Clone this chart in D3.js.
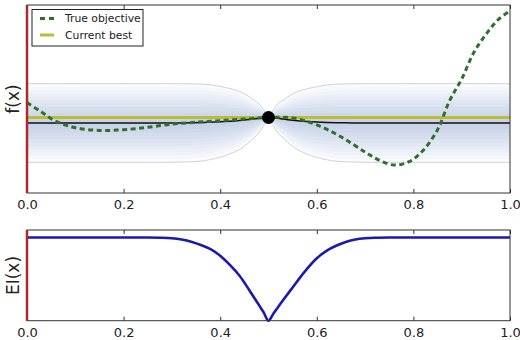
<!DOCTYPE html>
<html>
<head>
<meta charset="utf-8">
<script src="https://cdn.jsdelivr.net/npm/d3@7/dist/d3.min.js"></script>
<style>
  html, body { margin: 0; padding: 0; background: #fff; }
  svg { display: block; font-family: "DejaVu Sans", sans-serif; }
</style>
</head>
<body>
<svg id="chart" width="520" height="340"></svg>
<script>
// True objective function, sampled along x
const trueX = [0, 0.03, 0.06, 0.10, 0.15, 0.20, 0.25, 0.30, 0.35, 0.40, 0.45, 0.50, 0.55, 0.60, 0.65, 0.70, 0.73, 0.76, 0.79, 0.82, 0.85, 0.875, 0.90, 0.925, 0.95, 0.975, 1.0];
const trueY = [0.52, 0.28, 0.04, -0.12, -0.19, -0.17, -0.11, -0.03, 0.02, 0.06, 0.10, 0.14, 0.13, -0.05, -0.35, -0.74, -0.95, -1.07, -0.99, -0.70, -0.17, 0.57, 1.12, 1.79, 2.25, 2.62, 2.85];

// Gaussian-process posterior: mean and standard deviation
const gpX    = [0, 0.10, 0.20, 0.30, 0.32, 0.34, 0.36, 0.38, 0.40, 0.42, 0.44, 0.46, 0.47, 0.48, 0.49, 0.50, 0.51, 0.52, 0.53, 0.54, 0.56, 0.58, 0.60, 0.62, 0.64, 0.66, 0.68, 0.70, 0.80, 0.90, 1.0];
const gpMean = [0, 0, 0, 0, 0.002, 0.005, 0.01, 0.02, 0.03, 0.045, 0.065, 0.09, 0.105, 0.12, 0.13, 0.14, 0.13, 0.12, 0.10, 0.085, 0.06, 0.04, 0.025, 0.015, 0.008, 0.004, 0.002, 0, 0, 0, 0];
const gpSd   = [1, 1, 1, 1, 0.997, 0.99, 0.98, 0.95, 0.90, 0.83, 0.74, 0.58, 0.48, 0.38, 0.20, 0, 0.20, 0.38, 0.48, 0.58, 0.74, 0.83, 0.90, 0.95, 0.98, 0.99, 0.997, 1, 1, 1, 1];

// Observed sample and best value so far
const obsX = [0.5];
const obsY = [0.14];
const currentBest = 0.14;

// Expected improvement acquisition function
const eiX = [0, 0.10, 0.20, 0.25, 0.28, 0.30, 0.32, 0.34, 0.36, 0.38, 0.40, 0.42, 0.44, 0.46, 0.48, 0.49, 0.50, 0.51, 0.52, 0.53, 0.55, 0.575, 0.60, 0.62, 0.64, 0.66, 0.68, 0.70, 0.72, 0.75, 0.80, 0.90, 1.0];
const eiY = [1.0, 1.0, 1.0, 1.0, 0.997, 0.99, 0.975, 0.95, 0.91, 0.86, 0.78, 0.67, 0.54, 0.37, 0.19, 0.10, 0.0, 0.085, 0.165, 0.245, 0.40, 0.59, 0.75, 0.84, 0.90, 0.945, 0.975, 0.99, 0.997, 1.0, 1.0, 1.0, 1.0];

const xTicks = [0, 0.2, 0.4, 0.6, 0.8, 1.0];
const legendLabels = ["True objective", "Current best"];

const svg = d3.select("#chart");

const x = d3.scaleLinear().domain([0, 1]).range([27, 510]);
const yTop = d3.scaleLinear().domain([-1.78, 3.0]).range([193, 5]);
const yBot = d3.scaleLinear().domain([0, 1.09]).range([320.7, 230]);

const gp = gpX.map((d, i) => ({ x: d, m: gpMean[i], s: gpSd[i] }));

// Shaded posterior: nested translucent bands, darker toward the mean
const topG = svg.append("g");
const levels = d3.range(1, 13).map(k => k / 12);
levels.forEach(k => {
  topG.append("path")
    .datum(gp)
    .attr("fill", "#5a7ea8")
    .attr("fill-opacity", 0.028)
    .attr("d", d3.area()
      .x(d => x(d.x))
      .y0(d => yTop(d.m - k * d.s))
      .y1(d => yTop(d.m + k * d.s))
      .curve(d3.curveCatmullRom));
});

// Band outline at one standard deviation
[1, -1].forEach(sign => {
  topG.append("path")
    .datum(gp)
    .attr("fill", "none")
    .attr("stroke", "#d2d2d8")
    .attr("stroke-width", 1)
    .attr("d", d3.line()
      .x(d => x(d.x))
      .y(d => yTop(d.m + sign * d.s))
      .curve(d3.curveCatmullRom));
});

// Current best
topG.append("line")
  .attr("x1", x(0)).attr("x2", x(1))
  .attr("y1", yTop(currentBest)).attr("y2", yTop(currentBest))
  .attr("stroke", "#bdbd33").attr("stroke-width", 3);

// Posterior mean
topG.append("path")
  .datum(gp)
  .attr("fill", "none")
  .attr("stroke", "#111")
  .attr("stroke-width", 1.5)
  .attr("d", d3.line().x(d => x(d.x)).y(d => yTop(d.m)).curve(d3.curveCatmullRom));

// True objective
topG.append("path")
  .datum(trueX.map((d, i) => [d, trueY[i]]))
  .attr("fill", "none")
  .attr("stroke", "#2f6e2f")
  .attr("stroke-width", 3)
  .attr("stroke-dasharray", "5,3.5")
  .attr("d", d3.line().x(d => x(d[0])).y(d => yTop(d[1])).curve(d3.curveCatmullRom));

// Observation
topG.selectAll("circle.obs")
  .data(obsX.map((d, i) => [d, obsY[i]]))
  .join("circle")
  .attr("class", "obs")
  .attr("cx", d => x(d[0])).attr("cy", d => yTop(d[1]))
  .attr("r", 6.5)
  .attr("fill", "#000");

// Expected improvement
const botG = svg.append("g");
botG.append("path")
  .datum(eiX.map((d, i) => [d, eiY[i]]))
  .attr("fill", "none")
  .attr("stroke", "#1a1ab0")
  .attr("stroke-width", 2.6)
  .attr("d", d3.line().x(d => x(d[0])).y(d => yBot(d[1])).curve(d3.curveCatmullRom));

// Frames, ticks and labels
function frame(yScale) {
  const [y0, y1] = yScale.range();
  const g = svg.append("g");
  g.append("rect")
    .attr("x", x(0)).attr("y", y1)
    .attr("width", x(1) - x(0)).attr("height", y0 - y1)
    .attr("fill", "none").attr("stroke", "#333").attr("stroke-width", 1);
  // inward ticks on top and bottom edges
  g.append("g").attr("transform", `translate(0,${y0})`)
    .call(d3.axisBottom(x).tickValues(xTicks).tickSize(-4).tickPadding(7).tickFormat(d3.format(".1f")))
    .call(a => a.select(".domain").remove())
    .call(a => a.selectAll("line").attr("stroke", "#333"))
    .call(a => a.selectAll("text").attr("font-size", 13).attr("fill", "#222").attr("font-family", "DejaVu Sans"));
  g.append("g").attr("transform", `translate(0,${y1})`)
    .call(d3.axisTop(x).tickValues(xTicks).tickSize(-4).tickFormat(""))
    .call(a => a.select(".domain").remove())
    .call(a => a.selectAll("line").attr("stroke", "#333"));
  // red marker along x = 0
  g.append("line")
    .attr("x1", x(0)).attr("x2", x(0))
    .attr("y1", y1).attr("y2", y0)
    .attr("stroke", "#a82a2a").attr("stroke-width", 2.5);
}
frame(yTop);
frame(yBot);

svg.append("text")
  .attr("transform", `translate(19,${(5 + 193) / 2}) rotate(-90)`)
  .attr("text-anchor", "middle")
  .attr("font-size", 17).attr("fill", "#222")
  .text("f(x)");
svg.append("text")
  .attr("transform", `translate(19,${(230 + 321) / 2}) rotate(-90)`)
  .attr("text-anchor", "middle")
  .attr("font-size", 17).attr("fill", "#222")
  .text("EI(x)");

// Legend
const leg = svg.append("g").attr("transform", "translate(32,9.5)");
leg.append("rect").attr("width", 111).attr("height", 36.5)
  .attr("fill", "#fff").attr("stroke", "#222").attr("stroke-width", 1);
leg.append("line").attr("x1", 8).attr("x2", 22).attr("y1", 9).attr("y2", 9)
  .attr("stroke", "#2f6e2f").attr("stroke-width", 3).attr("stroke-dasharray", "5,4");
leg.append("line").attr("x1", 8).attr("x2", 22).attr("y1", 25.5).attr("y2", 25.5)
  .attr("stroke", "#bdbd33").attr("stroke-width", 3);
leg.selectAll("text.lbl").data(legendLabels).join("text")
  .attr("class", "lbl")
  .attr("x", 33).attr("y", (d, i) => 9 + i * 16.5)
  .attr("dy", "0.35em")
  .attr("font-size", 10.8).attr("fill", "#222")
  .text(d => d);
</script>
</body>
</html>
